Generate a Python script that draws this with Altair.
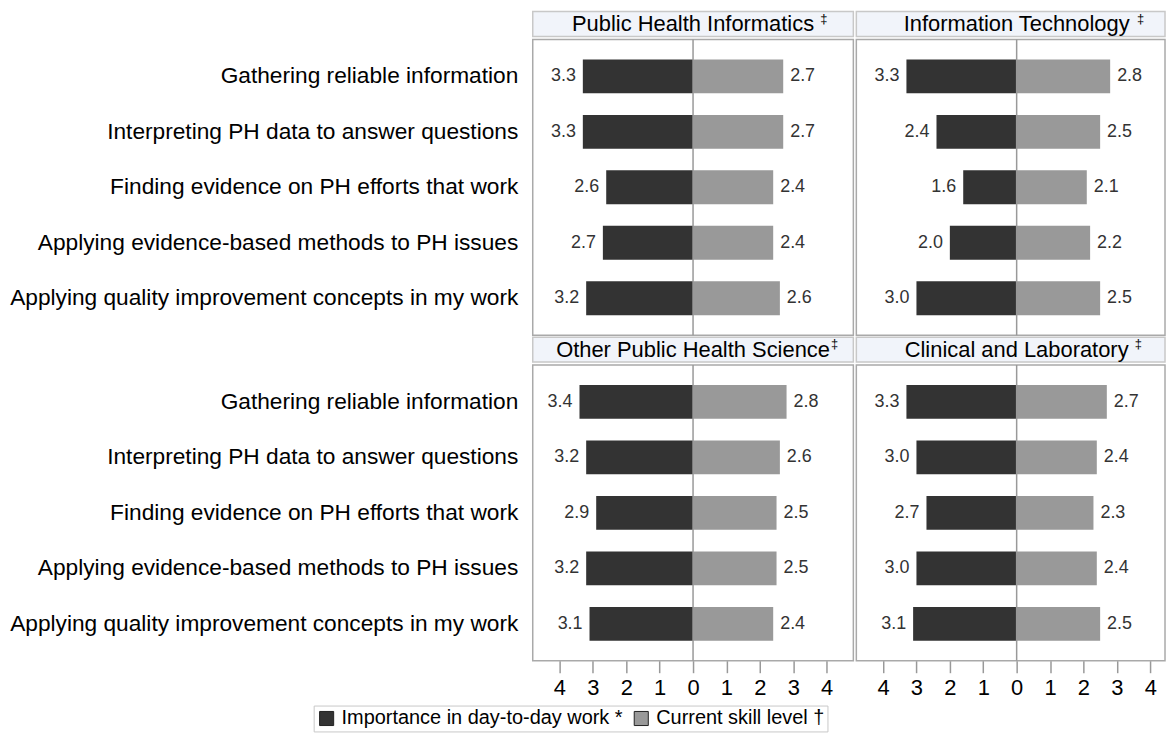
import altair as alt
import pandas as pd

panels = ["Public Health Informatics", "Information Technology",
          "Other Public Health Science", "Clinical and Laboratory"]
dagger_gap = [6, 6, 1, 6]
categories = [
    "Gathering reliable information",
    "Interpreting PH data to answer questions",
    "Finding evidence on PH efforts that work",
    "Applying evidence-based methods to PH issues",
    "Applying quality improvement concepts in my work",
]
series = ["Importance in day-to-day work *", "Current skill level \u2020"]
importance = {
    "Public Health Informatics": [3.3, 3.3, 2.6, 2.7, 3.2],
    "Information Technology": [3.3, 2.4, 1.6, 2.0, 3.0],
    "Other Public Health Science": [3.4, 3.2, 2.9, 3.2, 3.1],
    "Clinical and Laboratory": [3.3, 3.0, 2.7, 3.0, 3.1],
}
skill = {
    "Public Health Informatics": [2.7, 2.7, 2.4, 2.4, 2.6],
    "Information Technology": [2.8, 2.5, 2.1, 2.2, 2.5],
    "Other Public Health Science": [2.8, 2.6, 2.5, 2.5, 2.4],
    "Clinical and Laboratory": [2.7, 2.4, 2.3, 2.4, 2.5],
}
tick_values = [-4, -3, -2, -1, 0, 1, 2, 3, 4]
colors = ["#333333", "#999999"]

rows = []
for p in panels:
    for c, a, b in zip(categories, importance[p], skill[p]):
        rows.append({"panel": p, "category": c, "series": series[0], "signed": -a, "label": f"{a:.1f}"})
        rows.append({"panel": p, "category": c, "series": series[1], "signed": b, "label": f"{b:.1f}"})
data = pd.DataFrame(rows)

# Arial-compatible advance widths (per 1000 em) for header text measurement
AW = {" ": 278, "a": 556, "b": 556, "c": 500, "d": 556, "e": 556, "f": 278, "g": 556, "h": 556,
      "i": 222, "j": 222, "k": 500, "l": 222, "m": 833, "n": 556, "o": 556, "p": 556, "q": 556,
      "r": 333, "s": 500, "t": 278, "u": 556, "v": 500, "w": 722, "x": 500, "y": 500, "z": 500,
      "A": 667, "B": 667, "C": 722, "D": 722, "E": 667, "F": 611, "G": 778, "H": 722, "I": 278,
      "L": 556, "O": 778, "P": 667, "S": 667, "T": 611}

FONT = "Liberation Sans"
HFS = 22
FULLW = 322
SCALE_PX = FULLW / 9.6


def text_width(s, size):
    return sum(AW.get(ch, 556) for ch in s) / 1000 * size


def panel(i, show_y, show_x, width, height):
    name = panels[i]
    df = data[data.panel == name]
    hdr = pd.DataFrame({"title": [name], "dag": ["\u2021"]})
    right = -4.8 + width / SCALE_PX
    xscale = alt.Scale(domain=[-4.8, right], nice=False, zero=False)
    xaxis = alt.Axis(values=tick_values, tickCount=9, labelExpr="abs(datum.value)", tickSize=12,
                     tickColor="#999999", tickWidth=1.5, domain=False, grid=False,
                     labelFontSize=22, labelColor="#000000", labelPadding=5, title=None,
                     labelFont=FONT, labelOverlap=False, labelFlush=False,
                     labelBound=False) if show_x else None
    yaxis = alt.Axis(labelFontSize=22.8, labelColor="#000000", labelPadding=15, ticks=False,
                     domain=False, grid=False, title=None, labelLimit=700,
                     labelFont=FONT) if show_y else None
    xenc = alt.X("signed:Q", scale=xscale, axis=xaxis, stack=None)
    yenc = alt.Y("category:N", sort=categories,
                 scale=alt.Scale(paddingInner=0.39, paddingOuter=0.36), axis=yaxis)
    legend = alt.Legend(orient="none", legendX=-220, legendY=669, direction="horizontal",
                        title=None, symbolType="square", symbolSize=200,
                        symbolStrokeColor="#222222", symbolStrokeWidth=1,
                        labelFontSize=20, labelColor="#000000", labelFont=FONT,
                        labelLimit=0, strokeColor="#c8c8c8", fillColor="#ffffff", padding=3,
                        columnPadding=8, labelOffset=5)
    base = alt.Chart(df)
    bars = base.mark_bar().encode(
        x=xenc, y=yenc,
        color=alt.Color("series:N", scale=alt.Scale(domain=series, range=colors), legend=legend),
    )
    lab_l = base.transform_filter(alt.datum.series == series[0]).mark_text(
        align="right", baseline="middle", dx=-7, fontSize=18, color="#333333", font=FONT
    ).encode(x=xenc, y=yenc, text="label:N")
    lab_r = base.transform_filter(alt.datum.series == series[1]).mark_text(
        align="left", baseline="middle", dx=7, fontSize=18, color="#333333", font=FONT
    ).encode(x=xenc, y=yenc, text="label:N")
    zero = alt.Chart(hdr).mark_rule(color="#999999", strokeWidth=1.5).encode(
        x=alt.XDatum(0, type="quantitative", scale=xscale, axis=xaxis))
    hrect = alt.Chart(hdr).mark_rect(fill="#f1f4fa", stroke="#c8c8c8", strokeWidth=1.5).encode(
        x=alt.value(0), x2=alt.value(width), y=alt.value(-28), y2=alt.value(-3))
    cx = FULLW / 2
    htext = alt.Chart(hdr).mark_text(fontSize=HFS, baseline="middle", align="center",
                                     color="#000000", font=FONT).encode(
        text="title:N", x=alt.value(cx), y=alt.value(-15.5))
    dx = cx + text_width(name, HFS) / 2 + dagger_gap[i]
    hdag = alt.Chart(hdr).mark_text(fontSize=13, baseline="middle", align="left",
                                    color="#000000", font=FONT).encode(
        text="dag:N", x=alt.value(dx), y=alt.value(-21))
    return alt.layer(hrect, htext, hdag, bars, lab_l, lab_r, zero).properties(
        width=width, height=height)


TL = panel(0, True, False, 322, 297)
TR = panel(1, False, False, 310, 297)
BL = panel(2, True, True, 322, 297)
BR = panel(3, False, True, 310, 297)

chart = alt.concat(TL, TR, BL, BR, columns=2, spacing={"row": 30, "column": 3},
                   bounds="flush").resolve_scale(
    x="independent", y="independent", color="shared"
).properties(
    padding={"left": 0, "top": 0, "right": 0, "bottom": 0}
).configure(font=FONT).configure_view(
    stroke="#a9a9a9", strokeWidth=1.5
).configure_axis(labelOverlap=False)

chart.save("out.html", embed_options={"renderer": "svg", "actions": False})
